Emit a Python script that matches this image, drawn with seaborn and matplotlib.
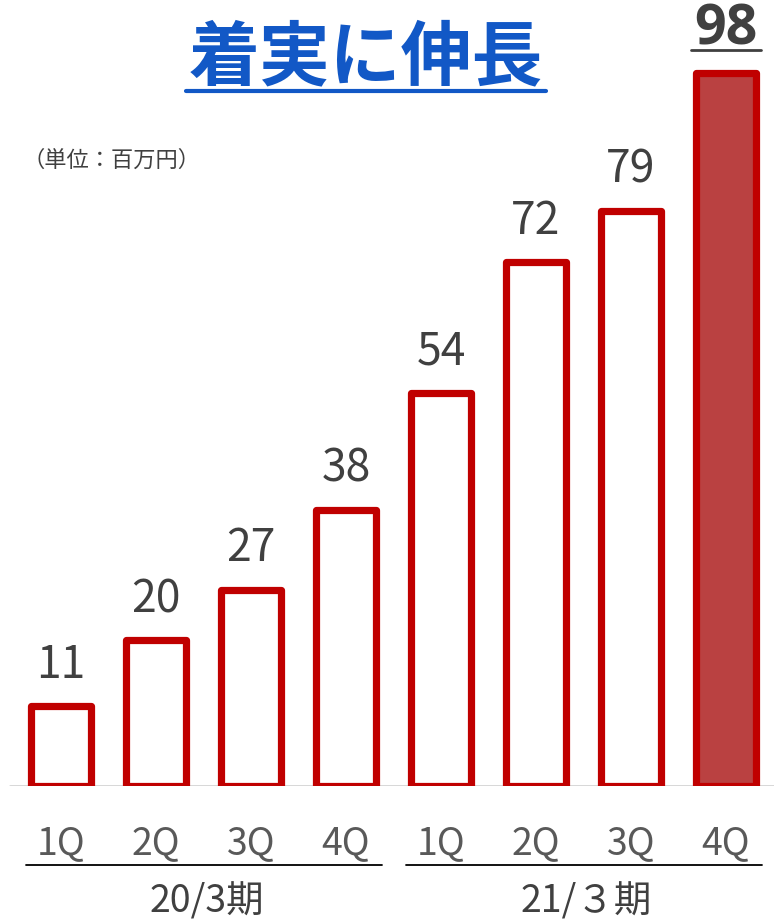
import matplotlib
matplotlib.use("Agg")

import matplotlib.pyplot as plt
import pandas as pd
import seaborn as sns
from matplotlib.lines import Line2D
from matplotlib.transforms import blended_transform_factory

quarters = ["1Q", "2Q", "3Q", "4Q", "1Q", "2Q", "3Q", "4Q"]
periods = ["20/3期", "20/3期", "20/3期", "20/3期", "21/３期", "21/３期", "21/３期", "21/３期"]
values = [11, 20, 27, 38, 54, 72, 79, 98]
title = "着実に伸長"
unit_label = "（単位：百万円）"

EDGE = "#C00000"
FILL_LAST = "#BA4141"
TEXT = "#404040"
TICK = "#595959"
BLUE = "#1258C6"

sns.set_theme(style="white")
plt.rcParams["font.family"] = ["Noto Sans CJK JP", "DejaVu Sans"]

df = pd.DataFrame({"bar": [f"{p} {q}" for p, q in zip(periods, quarters)],
                   "quarter": quarters, "period": periods, "value": values})
fills = ["white"] * (len(values) - 1) + [FILL_LAST]

fig = plt.figure(figsize=(7.74, 9.2), dpi=100)
ax = fig.add_axes([0, 133 / 920, 1, 787 / 920])

sns.barplot(data=df, x="bar", y="value", hue="bar", palette=fills,
            legend=False, width=0.64, ax=ax, saturation=1)
for p in ax.patches:
    p.set_edgecolor(EDGE)
    p.set_linewidth(5.2)
    p.set_joinstyle("round")

ax.set_xlim(-61 / 95, (774 - 61) / 95)
ax.set_ylim(0, 787 / 7.276)
ax.axhline(0, xmin=10 / 774, xmax=1, color="#D4D4D4", lw=2, zorder=0)
sns.despine(ax=ax, left=True, bottom=True, top=True, right=True)
ax.set_yticks([])
ax.set_xlabel("")
ax.set_ylabel("")
ax.set_xticks(range(len(quarters)))
ax.set_xticklabels(quarters, fontsize=27, color=TICK)
ax.tick_params(axis="x", length=0, pad=27)
ax.patch.set_alpha(0)

# value labels
labels = []
for i, v in enumerate(values):
    last = i == len(values) - 1
    t = ax.annotate(str(v), (i, v), xytext=(0, 14 if not last else 12), textcoords="offset points",
                    ha="center", va="bottom", fontsize=40 if last else 32,
                    fontweight="bold" if last else "normal", color=TEXT,
                    family=["Open Sans", "DejaVu Sans"] if last else ["Noto Sans CJK JP", "DejaVu Sans"])
    labels.append(t)

# group lines and period labels
tr = blended_transform_factory(ax.transData, ax.transAxes)
groups = list(dict.fromkeys(periods))
for g in groups:
    idx = [i for i, p in enumerate(periods) if p == g]
    ax.plot([idx[0] - 0.37, idx[-1] + 0.38], [-0.1004, -0.1004], transform=tr,
            color="black", lw=1.3, clip_on=False)
    ax.text((idx[0] + idx[-1]) / 2 + 0.03, -0.146, g, transform=tr, ha="center",
            va="center", fontsize=27, color=TEXT)

# title and unit
ttl = fig.text(366 / 774, 1 - 58 / 920, title, ha="center", va="center",
               fontsize=51, fontweight="bold", color=BLUE)
fig.text(22 / 774, 1 - 160 / 920, unit_label, ha="left", va="center",
         fontsize=16, color=TEXT)

# underlines
fig.canvas.draw()
r = fig.canvas.get_renderer()
inv = fig.transFigure.inverted()
for t, lw, col, gap in [(ttl, 3, BLUE, 2), (labels[-1], 2, TEXT, 6)]:
    bb = t.get_window_extent(r)
    (x0, y0), (x1, _) = inv.transform([(bb.x0 - 3, bb.y0 + gap), (bb.x1 + 3, bb.y0)])
    fig.add_artist(Line2D([x0, x1], [y0, y0], transform=fig.transFigure, color=col, lw=lw))

fig.savefig("out.png", dpi=100)
